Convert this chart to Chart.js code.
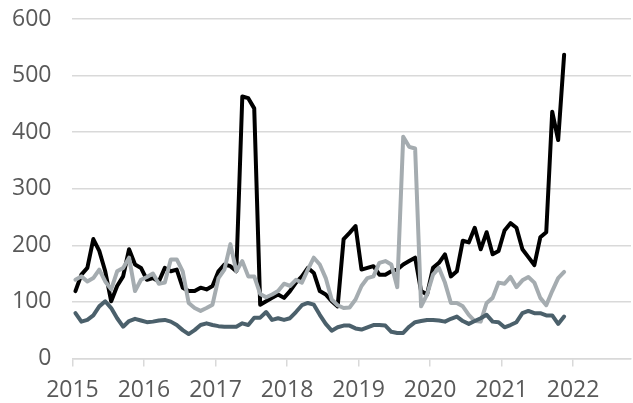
<!DOCTYPE html>
<html>
<head>
<meta charset="utf-8">
<script src="https://cdn.jsdelivr.net/npm/chart.js@4"></script>
<style>
  html, body { margin: 0; padding: 0; background: #fff; }
  #chart { display: block; }
</style>
</head>
<body>
<canvas id="chart" width="633" height="403"></canvas>
<script>
// monthly series, Jan 2015 .. Nov 2021
var startYear = 2015;
var yearTicks = [2015, 2016, 2017, 2018, 2019, 2020, 2021, 2022];

var seriesBlack = [
  119, 148, 160, 211, 190, 154, 101, 128, 145, 193, 166, 160,
  139, 142, 136, 160, 154, 157, 125, 119, 119, 125, 122, 128,
  154, 166, 163, 154, 463, 460, 442, 95, 101, 107, 113, 107,
  119, 134, 145, 160, 151, 119, 113, 101, 92, 211, 222, 234,
  157, 160, 163, 148, 148, 154, 157, 166, 172, 178, 119, 113,
  160, 169, 184, 145, 154, 208, 205, 231, 193, 223, 184, 190,
  226, 239, 231, 193, 179, 165, 214, 223, 436, 386, 537
];

var seriesGray = [
  139, 145, 136, 142, 157, 136, 122, 154, 160, 178, 119, 139,
  144, 150, 132, 134, 175, 175, 154, 98, 89, 84, 89, 95,
  142, 157, 202, 154, 172, 145, 145, 114, 108, 113, 119, 132,
  128, 139, 134, 157, 178, 166, 142, 104, 94, 89, 90, 104,
  128, 142, 145, 169, 172, 166, 126, 392, 374, 371, 92, 113,
  148, 160, 134, 98, 98, 92, 77, 66, 65, 98, 107, 134,
  132, 144, 126, 138, 144, 134, 107, 94, 119, 142, 153
];

var seriesSlate = [
  80, 65, 68, 76, 92, 101, 89, 71, 56, 66, 70, 67,
  64, 65, 67, 68, 65, 59, 50, 43, 50, 59, 62, 59,
  57, 56, 56, 56, 62, 59, 72, 72, 82, 68, 71, 68,
  71, 82, 94, 98, 95, 77, 61, 49, 55, 58, 58, 53,
  51, 55, 59, 59, 58, 47, 45, 45, 56, 64, 66, 68,
  68, 67, 65, 70, 74, 66, 61, 66, 71, 77, 65, 64,
  55, 59, 64, 80, 84, 80, 80, 76, 76, 61, 74
];

// place each month at its midpoint on a year axis
function toPoints(values) {
  return values.map(function (v, i) {
    return { x: startYear + (i + 0.5) / 12, y: v };
  });
}

var axisFont = { family: '"Open Sans", Lato, sans-serif', size: 23 };
var textColor = '#595959';
var gridColor = '#d9d9d9';

new Chart(document.getElementById('chart'), {
  type: 'line',
  data: {
    datasets: [{
      label: 'Series 3',
      data: toPoints(seriesSlate),
      borderColor: '#4b606b',
      borderWidth: 4,
      pointRadius: 0,
      tension: 0
    }, {
      label: 'Series 2',
      data: toPoints(seriesGray),
      borderColor: '#a5acb0',
      borderWidth: 4,
      pointRadius: 0,
      tension: 0
    }, {
      label: 'Series 1',
      data: toPoints(seriesBlack),
      borderColor: '#000000',
      borderWidth: 4,
      pointRadius: 0,
      tension: 0
    }]
  },
  options: {
    responsive: false,
    animation: false,
    devicePixelRatio: 1,
    layout: { padding: { left: 10, right: 2, top: 19, bottom: -11 } },
    plugins: {
      legend: { display: false },
      tooltip: { enabled: false }
    },
    elements: { line: { borderJoinStyle: 'round', borderCapStyle: 'round' } },
    scales: {
      x: {
        type: 'linear',
        min: yearTicks[0],
        max: 2022.81,
        afterBuildTicks: function (scale) {
          scale.ticks = yearTicks.map(function (y) { return { value: y }; });
        },
        ticks: {
          font: axisFont,
          color: textColor,
          padding: 10,
          maxRotation: 0,
          callback: function (v) { return String(v); }
        },
        grid: {
          drawOnChartArea: false,
          color: gridColor,
          tickLength: 8,
          lineWidth: 1.5
        },
        border: { display: true, color: gridColor, width: 1.5 }
      },
      y: {
        min: 0,
        max: 600,
        ticks: {
          stepSize: 100,
          font: axisFont,
          color: textColor,
          padding: 2
        },
        grid: {
          color: gridColor,
          tickColor: 'rgba(0,0,0,0)',
          tickLength: 19,
          lineWidth: 1.5
        },
        border: { display: false }
      }
    }
  }
});
</script>
</body>
</html>
